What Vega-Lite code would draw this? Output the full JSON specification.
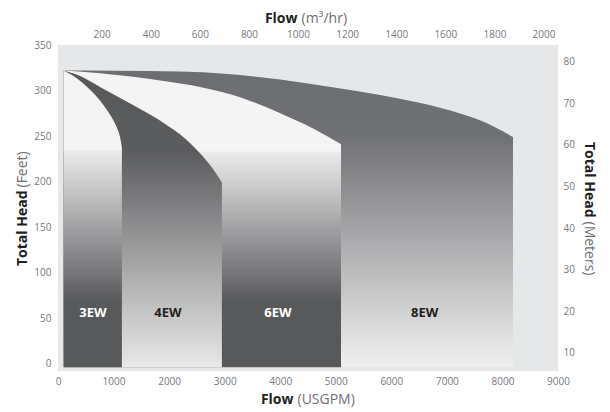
{
  "$schema": "https://vega.github.io/schema/vega-lite/v6.json",
  "autosize": {"type": "none"},
  "width": 500,
  "height": 326,
  "padding": {"left": 58, "top": 45, "right": 52, "bottom": 41},
  "background": "white",
  "config": {
    "view": {"fill": "#e6e7e8", "stroke": null},
    "font": "Open Sans",
    "axis": {
      "grid": false, "ticks": false, "domain": false,
      "labelFont": "Open Sans", "labelFontSize": 10, "labelColor": "#77787b",
      "labelFlush": false, "labelOverlap": false, "format": "d",
      "titleFont": "Open Sans", "titleFontSize": 14, "titleBaseline": "alphabetic"
    }
  },
  "datasets": {
    "curves": [
      {"pump": "8EW", "gpm": 100, "ft": 322},
      {"pump": "8EW", "gpm": 1000, "ft": 321.8},
      {"pump": "8EW", "gpm": 2200, "ft": 321},
      {"pump": "8EW", "gpm": 3000, "ft": 318.5},
      {"pump": "8EW", "gpm": 4000, "ft": 312},
      {"pump": "8EW", "gpm": 5000, "ft": 303},
      {"pump": "8EW", "gpm": 5800, "ft": 295},
      {"pump": "8EW", "gpm": 6460, "ft": 287},
      {"pump": "8EW", "gpm": 7060, "ft": 278},
      {"pump": "8EW", "gpm": 7650, "ft": 266},
      {"pump": "8EW", "gpm": 8190, "ft": 249},
      {"pump": "6EW", "gpm": 100, "ft": 322},
      {"pump": "6EW", "gpm": 756, "ft": 319},
      {"pump": "6EW", "gpm": 1350, "ft": 315},
      {"pump": "6EW", "gpm": 1962, "ft": 310},
      {"pump": "6EW", "gpm": 2556, "ft": 304},
      {"pump": "6EW", "gpm": 2800, "ft": 300.5},
      {"pump": "6EW", "gpm": 3400, "ft": 290},
      {"pump": "6EW", "gpm": 4000, "ft": 275},
      {"pump": "6EW", "gpm": 4600, "ft": 258},
      {"pump": "6EW", "gpm": 5094, "ft": 241},
      {"pump": "4EW", "gpm": 100, "ft": 322},
      {"pump": "4EW", "gpm": 400, "ft": 316},
      {"pump": "4EW", "gpm": 756, "ft": 304},
      {"pump": "4EW", "gpm": 1350, "ft": 284},
      {"pump": "4EW", "gpm": 1962, "ft": 262},
      {"pump": "4EW", "gpm": 2196, "ft": 252},
      {"pump": "4EW", "gpm": 2556, "ft": 231},
      {"pump": "4EW", "gpm": 2800, "ft": 213},
      {"pump": "4EW", "gpm": 2950, "ft": 199},
      {"pump": "3EW", "gpm": 100, "ft": 322},
      {"pump": "3EW", "gpm": 250, "ft": 317},
      {"pump": "3EW", "gpm": 450, "ft": 308},
      {"pump": "3EW", "gpm": 600, "ft": 299.5},
      {"pump": "3EW", "gpm": 756, "ft": 289},
      {"pump": "3EW", "gpm": 900, "ft": 277},
      {"pump": "3EW", "gpm": 990, "ft": 268},
      {"pump": "3EW", "gpm": 1080, "ft": 256},
      {"pump": "3EW", "gpm": 1120, "ft": 248},
      {"pump": "3EW", "gpm": 1150, "ft": 238}
    ],
    "labels": [
      {"pump": "3EW", "gpm": 630, "ft": 56},
      {"pump": "4EW", "gpm": 1980, "ft": 56},
      {"pump": "6EW", "gpm": 3960, "ft": 56},
      {"pump": "8EW", "gpm": 6600, "ft": 56}
    ],
    "metric": [
      {"m3": 200, "m": 10}, {"m3": 400, "m": 20}, {"m3": 600, "m": 30},
      {"m3": 800, "m": 40}, {"m3": 1000, "m": 50}, {"m3": 1200, "m": 60},
      {"m3": 1400, "m": 70}, {"m3": 1600, "m": 80}, {"m3": 1800, "m": 80},
      {"m3": 2000, "m": 80}
    ]
  },
  "layer": [
    {
      "data": {"name": "curves"},
      "encoding": {
        "x": {
          "field": "gpm", "type": "quantitative",
          "scale": {"domain": [0, 9000], "nice": false, "zero": false},
          "axis": {
            "orient": "bottom", "values": [0, 1000, 2000, 3000, 4000, 5000, 6000, 7000, 8000, 9000],
            "labelPadding": 5,
            "title": "Flow", "titleFontWeight": "bold", "titleColor": "#231f20",
            "titleAlign": "right", "titleX": 235, "titleY": 32, "titleAngle": 0
          }
        },
        "y": {
          "field": "ft", "type": "quantitative",
          "scale": {"domain": [-8, 350], "nice": false, "zero": false},
          "axis": {
            "orient": "left", "values": [0, 50, 100, 150, 200, 250, 300, 350],
            "labelPadding": 7,
            "title": "Total Head", "titleFontWeight": "bold", "titleColor": "#231f20",
            "titleAngle": 270, "titleAlign": "right", "titleX": -32, "titleY": 145
          }
        }
      },
      "layer": [
        {
          "transform": [{"filter": "datum.pump === '8EW'"}],
          "mark": {"type": "area", "interpolate": "monotone",
            "color": {"gradient": "linear", "x1": 0, "y1": 0, "x2": 0, "y2": 1,
              "stops": [{"offset": 0, "color": "#6d6e71"}, {"offset": 0.22, "color": "#707174"}, {"offset": 1, "color": "#f0f0f0"}]}},
          "encoding": {"y2": {"datum": -4}}
        },
        {
          "transform": [{"filter": "datum.pump === '6EW'"}],
          "mark": {"type": "area", "interpolate": "monotone",
            "color": {"gradient": "linear", "x1": 0, "y1": 0, "x2": 0, "y2": 1,
              "stops": [{"offset": 0, "color": "#f4f4f4"}, {"offset": 0.27, "color": "#f4f4f4"}, {"offset": 0.276, "color": "#ebebec"}, {"offset": 0.78, "color": "#58595b"}, {"offset": 1, "color": "#58595b"}]}},
          "encoding": {"y2": {"datum": -4}}
        },
        {
          "transform": [{"filter": "datum.pump === '4EW'"}],
          "mark": {"type": "area", "interpolate": "monotone",
            "color": {"gradient": "linear", "x1": 0, "y1": 0, "x2": 0, "y2": 1,
              "stops": [{"offset": 0, "color": "#58595b"}, {"offset": 0.27, "color": "#5b5c5e"}, {"offset": 1, "color": "#e8e8e8"}]}},
          "encoding": {"y2": {"datum": -4}}
        },
        {
          "transform": [{"filter": "datum.pump === '3EW'"}],
          "mark": {"type": "area", "interpolate": "monotone",
            "color": {"gradient": "linear", "x1": 0, "y1": 0, "x2": 0, "y2": 1,
              "stops": [{"offset": 0, "color": "#f4f4f4"}, {"offset": 0.265, "color": "#f4f4f4"}, {"offset": 0.271, "color": "#ebebec"}, {"offset": 0.78, "color": "#58595b"}, {"offset": 1, "color": "#58595b"}]}},
          "encoding": {"y2": {"datum": -4}}
        },
        {
          "data": {"name": "labels"},
          "mark": {"type": "text", "font": "Open Sans", "fontSize": 13, "fontWeight": "bold", "align": "center", "baseline": "middle"},
          "encoding": {
            "text": {"field": "pump"},
            "color": {"field": "pump", "type": "nominal", "legend": null,
              "scale": {"domain": ["3EW", "4EW", "6EW", "8EW"], "range": ["#ffffff", "#231f20", "#ffffff", "#231f20"]}}
          }
        }
      ]
    },
    {
      "data": {"name": "curves"},
      "mark": {"type": "point", "opacity": 0},
      "encoding": {
        "x": {
          "field": "gpm", "type": "quantitative",
          "scale": {"domain": [0, 9000], "nice": false, "zero": false},
          "axis": {"orient": "bottom", "labels": false,
            "title": "(USGPM)", "titleFontWeight": "normal", "titleColor": "#6d6e71",
            "titleAlign": "left", "titleX": 239, "titleY": 32, "titleAngle": 0}
        },
        "y": {
          "field": "ft", "type": "quantitative",
          "scale": {"domain": [-8, 350], "nice": false, "zero": false},
          "axis": {"orient": "left", "labels": false,
            "title": "(Feet)", "titleFontWeight": "normal", "titleColor": "#6d6e71",
            "titleAngle": 270, "titleAlign": "left", "titleX": -32, "titleY": 142}
        }
      }
    },
    {
      "data": {"name": "metric"},
      "mark": {"type": "point", "opacity": 0},
      "encoding": {
        "x": {
          "field": "m3", "type": "quantitative",
          "scale": {"domain": [22, 2059], "nice": false, "zero": false},
          "axis": {"orient": "top", "values": [200, 400, 600, 800, 1000, 1200, 1400, 1600, 1800, 2000],
            "labelPadding": 6,
            "title": "Flow", "titleFontWeight": "bold", "titleColor": "#231f20",
            "titleAlign": "right", "titleX": 239, "titleY": -23, "titleAngle": 0}
        },
        "y": {
          "field": "m", "type": "quantitative",
          "scale": {"domain": [5.65, 84], "nice": false, "zero": false},
          "axis": {"orient": "right", "values": [10, 20, 30, 40, 50, 60, 70, 80],
            "labelPadding": 5,
            "title": "Total Head", "titleFontWeight": "bold", "titleColor": "#231f20",
            "titleAngle": 90, "titleAlign": "right", "titleX": 26, "titleY": 172}
        }
      }
    },
    {
      "data": {"name": "metric"},
      "mark": {"type": "point", "opacity": 0},
      "encoding": {
        "x": {
          "field": "m3", "type": "quantitative",
          "scale": {"domain": [22, 2059], "nice": false, "zero": false},
          "axis": {"orient": "top", "labels": false,
            "title": "(m³/hr)", "titleFontWeight": "normal", "titleColor": "#6d6e71",
            "titleAlign": "left", "titleX": 243, "titleY": -23, "titleAngle": 0}
        },
        "y": {
          "field": "m", "type": "quantitative",
          "scale": {"domain": [5.65, 84], "nice": false, "zero": false},
          "axis": {"orient": "right", "labels": false,
            "title": "(Meters)", "titleFontWeight": "normal", "titleColor": "#6d6e71",
            "titleAngle": 90, "titleAlign": "left", "titleX": 26, "titleY": 176}
        }
      }
    }
  ],
  "resolve": {
    "scale": {"x": "independent", "y": "independent"},
    "axis": {"x": "independent", "y": "independent"}
  }
}
